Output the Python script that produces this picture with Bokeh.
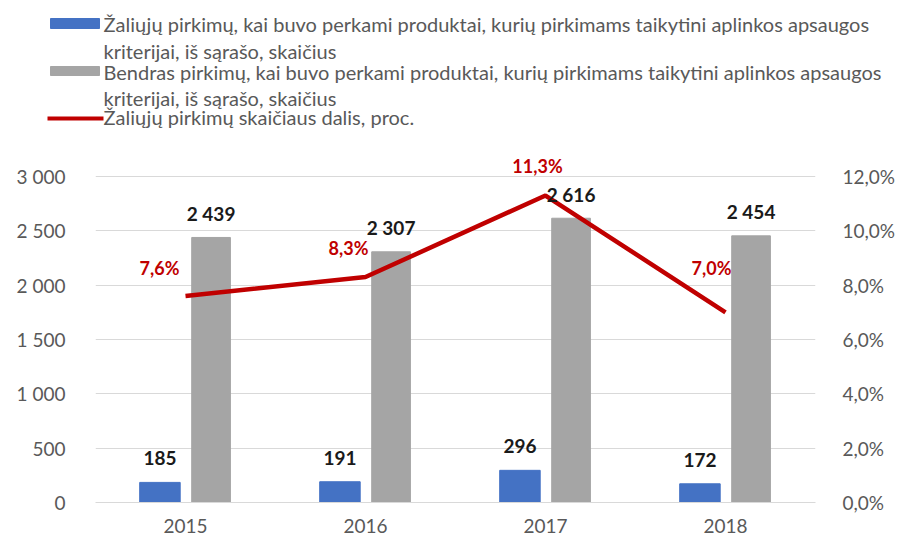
from bokeh.plotting import figure
from bokeh.models import (ColumnDataSource, FactorRange, Range1d, LinearAxis,
                          FixedTicker)
from bokeh.transform import dodge
from bokeh.layouts import column
from bokeh.core.properties import value
from bokeh.embed import file_html
from bokeh.resources import INLINE

years = ["2015", "2016", "2017", "2018"]
green_count = [185, 191, 296, 172]
total_count = [2439, 2307, 2616, 2454]
green_share = [7.6, 8.3, 11.3, 7.0]

legend_lines_green = ["Žaliųjų pirkimų, kai buvo perkami produktai, kurių pirkimams taikytini aplinkos apsaugos",
                      "kriterijai, iš sąrašo, skaičius"]
legend_lines_total = ["Bendras pirkimų, kai buvo perkami produktai, kurių pirkimams taikytini aplinkos apsaugos",
                      "kriterijai, iš sąrašo, skaičius"]
legend_line_share = "Žaliųjų pirkimų skaičiaus dalis, proc."

left_ticks = [0, 500, 1000, 1500, 2000, 2500, 3000]
right_ticks = [0, 2, 4, 6, 8, 10, 12]

# label nudges (screen px) for the percentage labels
pct_dx = [-26, -17, -8, -14]
pct_dy = [-28, -29, -30, -44]

FONT = "Lato"
TXT = "#595959"
BLUE = "#4472C4"
GRAY = "#A5A5A5"
RED = "#C00000"

# frame: 360 px tall, gridded part 326 px (0..3000), headroom above for labels
FRAME_H = 360
GRID_H = 326
left_end = 3000 * FRAME_H / GRID_H
right_end = 12 * FRAME_H / GRID_H

def fmt_thousands(v):
    return f"{v:,}".replace(",", " ")

src = ColumnDataSource(dict(
    year=years,
    green=green_count,
    total=total_count,
    share=green_share,
    green_lbl=[fmt_thousands(v) for v in green_count],
    total_lbl=[fmt_thousands(v) for v in total_count],
    share_lbl=[f"{v:.1f}%".replace(".", ",") for v in green_share],
    dx=pct_dx,
    dy=pct_dy,
))

# ---------- legend figure ----------
leg = figure(width=904, height=140, x_range=Range1d(0, 904), y_range=Range1d(140, 0),
             toolbar_location=None, output_backend="svg", min_border=0)
leg.frame_align = False
leg.axis.visible = False
leg.grid.visible = False
leg.outline_line_color = None
leg.quad(left=[50], right=[99], top=[18], bottom=[28], color=BLUE)
leg.quad(left=[50], right=[99], top=[66], bottom=[75], color=GRAY)
leg.segment(x0=[47], x1=[103], y0=[118], y1=[118], line_color=RED, line_width=4)
leg_text = legend_lines_green + legend_lines_total + [legend_line_share]
leg.text(x=[103] * 5, y=[23, 50, 71, 97, 116], text=leg_text,
         text_font=value(FONT), text_font_size="20px", text_color=TXT,
         text_baseline="middle", text_align="left")

# ---------- chart figure ----------
p = figure(width=904, height=402, x_range=FactorRange(*years, range_padding=0),
           y_range=Range1d(0, left_end), toolbar_location=None, output_backend="svg",
           min_border_left=95, min_border_right=89, min_border_top=2, min_border_bottom=40)
p.frame_align = False
p.outline_line_color = None
p.xgrid.visible = False
p.ygrid.grid_line_color = "#D9D9D9"
p.ygrid.ticker = FixedTicker(ticks=left_ticks)

p.extra_y_ranges = {"pct": Range1d(0, right_end)}

p.vbar(x=dodge("year", -0.142, range=p.x_range), top="green", width=0.225,
       source=src, color=BLUE)
p.vbar(x=dodge("year", 0.142, range=p.x_range), top="total", width=0.215,
       source=src, color=GRAY)
p.line(x="year", y="share", source=src, y_range_name="pct", line_color=RED,
       line_width=4.5)

p.text(x=dodge("year", -0.142, range=p.x_range), y="green", text="green_lbl", source=src,
       text_font=value(FONT), text_font_size="19px", text_font_style="bold",
       text_color="#1a1a1a", text_align="center", text_baseline="middle", y_offset=-24)
p.text(x=dodge("year", 0.142, range=p.x_range), y="total", text="total_lbl", source=src,
       text_font=value(FONT), text_font_size="19px", text_font_style="bold",
       text_color="#1a1a1a", text_align="center", text_baseline="middle", y_offset=-24)
p.text(x="year", y="share", text="share_lbl", source=src, y_range_name="pct",
       text_font=value(FONT), text_font_size="18px", text_font_style="bold",
       text_color=RED, text_align="center", text_baseline="middle",
       x_offset="dx", y_offset="dy")

ya = p.yaxis[0]
ya.ticker = FixedTicker(ticks=left_ticks)
ya.major_label_overrides = {t: fmt_thousands(t) for t in left_ticks}
ya.axis_line_color = None
ya.major_tick_line_color = None
ya.minor_tick_line_color = None
ya.major_label_text_font = FONT
ya.major_label_text_font_size = "19px"
ya.major_label_text_color = TXT
ya.major_label_standoff = 24

ra = LinearAxis(y_range_name="pct", ticker=FixedTicker(ticks=right_ticks))
ra.major_label_overrides = {t: f"{t:.1f}%".replace(".", ",") for t in right_ticks}
ra.axis_line_color = None
ra.major_tick_line_color = None
ra.minor_tick_line_color = None
ra.major_label_text_font = FONT
ra.major_label_text_font_size = "19px"
ra.major_label_text_color = TXT
ra.major_label_standoff = 21
p.add_layout(ra, "right")

xa = p.xaxis[0]
xa.axis_line_color = "#D9D9D9"
xa.major_tick_line_color = None
xa.minor_tick_line_color = None
xa.major_label_text_font = FONT
xa.major_label_text_font_size = "19px"
xa.major_label_text_color = TXT
xa.major_label_standoff = 10

layout = column(leg, p, spacing=0)
open("out.html", "w").write(file_html(layout, INLINE))
